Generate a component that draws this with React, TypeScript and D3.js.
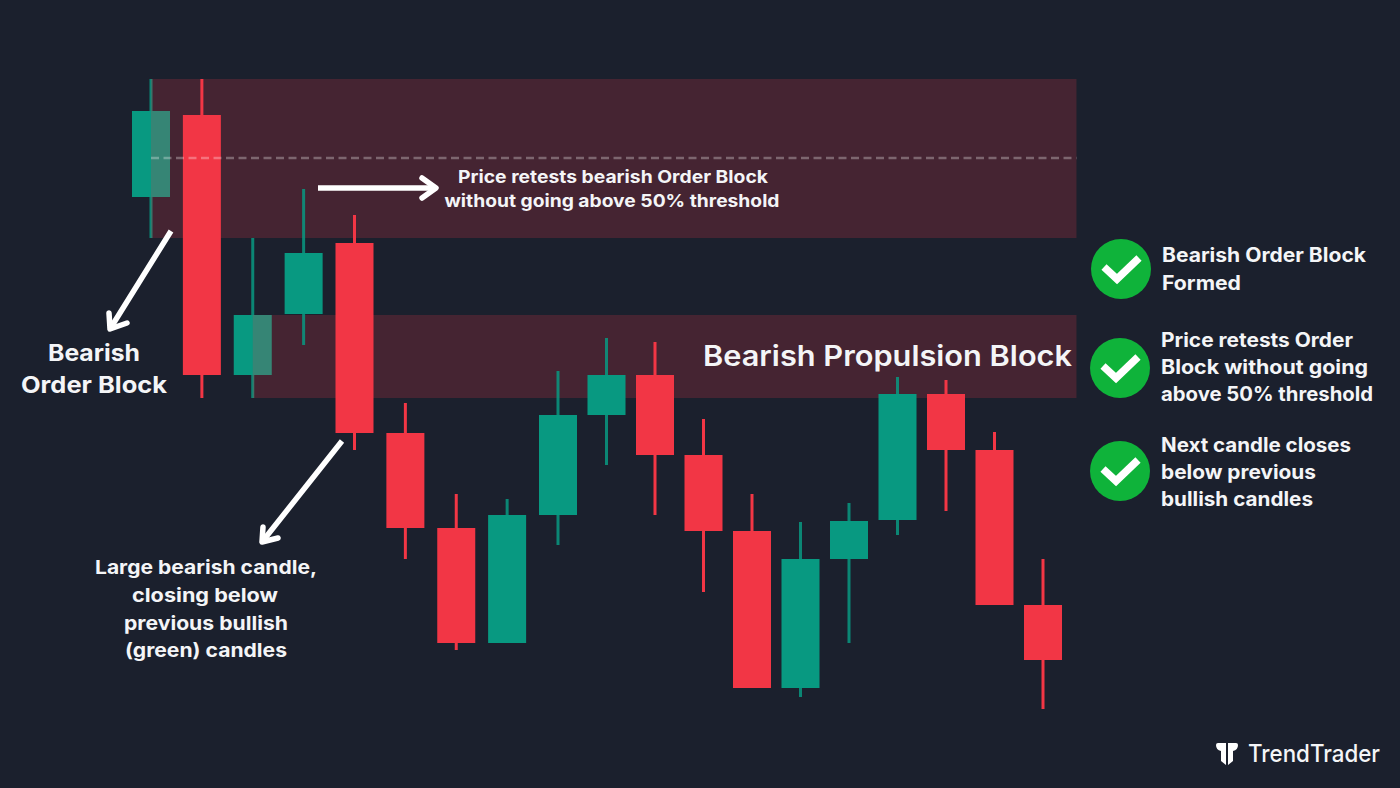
import React from 'react';
import * as d3 from 'd3';

// candle values, price goes up the page
const opens = [591, 673, 413, 474, 545, 355, 260, 145, 273, 373, 413, 333, 257, 100, 229, 268, 394, 338, 183];
const closes = [677, 413, 473, 535, 355, 260, 145, 273, 373, 413, 333, 257, 100, 229, 267, 394, 338, 183, 128];
const highs = [709, 709, 550, 599, 573, 385, 294, 289, 417, 450, 446, 369, 294, 266, 285, 411, 408, 356, 229];
const lows = [550, 390, 390, 443, 338, 229, 138, 145, 243, 323, 273, 196, 100, 91, 145, 253, 277, 183, 79];

const fadedCandles = [0, 2];

// [start candle, top price, bottom price]
const zones: [number, number, number][] = [
  [0, 709, 550],
  [2, 473, 390],
];
const midLevel = 630;
const zoneEnd = 18.69;

const W = 1400;
const H = 788;
const BG = '#1b202d';
const RED = '#f23645';
const GREEN = '#089981';
const CHECK = '#0fb33a';
const FONT = 'Inter, "Open Sans", sans-serif';

const x = d3.scaleLinear().domain([0, 8, 18]).range([151, 558, 1043]);
const y = d3.scaleLinear().domain([0, H]).range([H, 0]);
const bodyW = 38;

type Label = { t: string; x: number; y: number; s: number; w: number; a?: string; fw?: number };

const labels: Label[] = [
  { t: 'Bearish', x: 94, y: 361, s: 23, w: 92, a: 'middle' },
  { t: 'Order Block', x: 94, y: 393, s: 23, w: 146, a: 'middle' },
  { t: 'Price retests bearish Order Block', x: 613, y: 183, s: 17.5, w: 310, a: 'middle' },
  { t: 'without going above 50% threshold', x: 612, y: 207, s: 17.5, w: 335, a: 'middle' },
  { t: 'Bearish Propulsion Block', x: 703, y: 366, s: 28, w: 369, fw: 600 },
  { t: 'Large bearish candle,', x: 206, y: 574, s: 19, w: 222, a: 'middle' },
  { t: 'closing below', x: 205, y: 602, s: 19, w: 146, a: 'middle' },
  { t: 'previous bullish', x: 206, y: 630, s: 19, w: 164, a: 'middle' },
  { t: '(green) candles', x: 206, y: 657, s: 19, w: 162, a: 'middle' },
  { t: 'Bearish Order Block', x: 1162, y: 262, s: 19.5, w: 204 },
  { t: 'Formed', x: 1162, y: 290, s: 19.5, w: 79 },
  { t: 'Price retests Order', x: 1161, y: 347, s: 19.5, w: 192 },
  { t: 'Block without going', x: 1161, y: 374, s: 19.5, w: 207 },
  { t: 'above 50% threshold', x: 1161, y: 401, s: 19.5, w: 212 },
  { t: 'Next candle closes', x: 1161, y: 452, s: 19.5, w: 190 },
  { t: 'below previous', x: 1161, y: 479, s: 19.5, w: 155 },
  { t: 'bullish candles', x: 1161, y: 506, s: 19.5, w: 152 },
];

const checks = [
  [1121, 269],
  [1120, 368],
  [1120, 471],
];

// arrows: shaft start, tip, two head barbs
const arrows = [
  { from: [171, 231], to: [110, 329], a: [127, 323], b: [109, 313] },
  { from: [318, 188], to: [436, 188], a: [422, 178], b: [422, 198] },
  { from: [342, 441], to: [262, 542], a: [278, 538], b: [263, 527] },
];

function Candle({ i }: { i: number }) {
  const up = closes[i] > opens[i];
  const col = up ? GREEN : RED;
  const top = y(Math.max(opens[i], closes[i]));
  const bottom = y(Math.min(opens[i], closes[i]));
  return (
    <g>
      <line x1={x(i)} x2={x(i)} y1={y(highs[i])} y2={y(lows[i])} stroke={col} strokeWidth={3} strokeOpacity={up ? 0.85 : 1} />
      <rect x={x(i) - bodyW / 2} y={top} width={bodyW} height={bottom - top} fill={col} />
    </g>
  );
}

export default function App() {
  const shafts = d3.path();
  const heads = d3.path();
  arrows.forEach((ar) => {
    shafts.moveTo(ar.from[0], ar.from[1]);
    shafts.lineTo(ar.to[0], ar.to[1]);
    heads.moveTo(ar.a[0], ar.a[1]);
    heads.lineTo(ar.to[0], ar.to[1]);
    heads.lineTo(ar.b[0], ar.b[1]);
  });

  return (
    <svg width={W} height={H} style={{ position: 'absolute', left: 0, top: 0, background: BG }}>
      {fadedCandles.map((i) => <Candle key={i} i={i} />)}

      {zones.map((z, k) => (
        <rect
          key={k}
          x={x(z[0])}
          y={y(z[1])}
          width={x(zoneEnd) - x(z[0])}
          height={y(z[2]) - y(z[1])}
          fill={RED}
          fillOpacity={0.2}
        />
      ))}

      {opens.map((_, i) => (fadedCandles.includes(i) ? null : <Candle key={i} i={i} />))}

      <line
        x1={x(0)}
        x2={x(zoneEnd)}
        y1={y(midLevel)}
        y2={y(midLevel)}
        stroke="#fff"
        strokeOpacity={0.3}
        strokeWidth={2.5}
        strokeDasharray="8 4.5"
      />

      <path d={shafts.toString()} fill="none" stroke="#fff" strokeWidth={5.5} />
      <path d={heads.toString()} fill="none" stroke="#fff" strokeWidth={5.5} strokeLinejoin="round" strokeLinecap="round" />

      {checks.map((c, k) => (
        <g key={k} transform={`translate(${c[0]},${c[1]})`}>
          <circle r={30} fill={CHECK} />
          <path d="M-17,-2 L-4,10 L18,-11" fill="none" stroke="#fff" strokeWidth={7.5} />
        </g>
      ))}

      {labels.map((l) => (
        <text
          key={l.t}
          x={l.x}
          y={l.y}
          fontFamily={FONT}
          fontSize={l.s}
          fontWeight={l.fw || 700}
          fill="#f4f5f7"
          textAnchor={l.a || 'start'}
          textLength={l.w}
          lengthAdjust="spacingAndGlyphs"
        >
          {l.t}
        </text>
      ))}

      <path
        d="M1218,743 H1226 V765 L1221,761 V751 Q1216,750 1216,745 Q1216,743 1218,743 Z M1236,743 H1228 V765 L1233,761 V751 Q1238,750 1238,745 Q1238,743 1236,743 Z"
        fill="#fff"
      />
      <text x={1248} y={762} fontFamily={FONT} fontSize={24} fontWeight={500} fill="#f4f5f7" textLength={132} lengthAdjust="spacingAndGlyphs">
        TrendTrader
      </text>
    </svg>
  );
}
